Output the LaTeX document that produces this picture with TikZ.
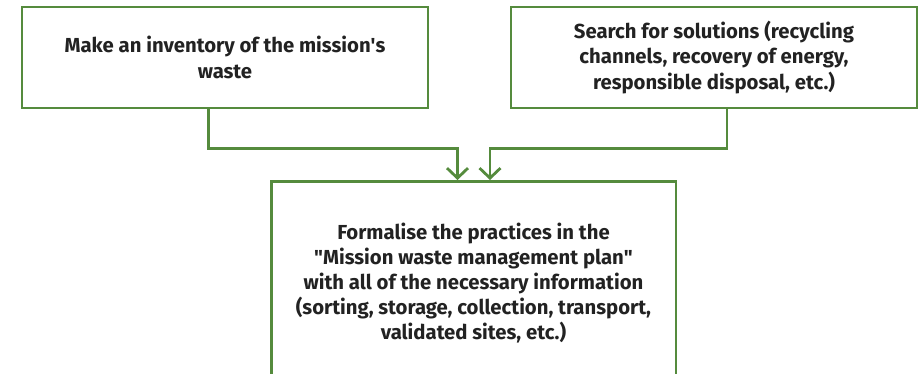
\documentclass[tikz,border=0pt]{standalone}
\usepackage{fontspec}
\setmainfont{Fira Sans}
\usepackage{tikz}
\usetikzlibrary{positioning,calc,arrows.meta}
\definecolor{wmgreen}{HTML}{558B3D}
\definecolor{wmtext}{HTML}{222222}
\tikzset{
  wmbox/.style={draw=wmgreen,line width=2.8pt,fill=white,rectangle,
    minimum width=406pt,minimum height=101pt,align=center,
    text=wmtext,font=\fontsize{20.3}{25.5}\selectfont\bfseries},
  wmplan/.style={rectangle,inner sep=0pt,align=center,
    text=wmtext,font=\fontsize{20.3}{25}\selectfont\bfseries},
  wmframe/.style={draw=wmgreen,line width=2.8pt},
  wmlink/.style={draw=wmgreen,line width=2.8pt,
    -{Straight Barb[length=10pt,width=21pt,line width=2.8pt]},shorten >=1.5pt}
}
\begin{document}
\begin{tikzpicture}[x=1pt,y=1pt]
  \useasboundingbox (0,0) rectangle (922,-373);
  % ---------- top boxes ----------
  \node[wmbox] (inv) at (225,-57.5) {Make an inventory of the mission\textquotesingle s\\waste};
  \node[wmbox] (sol) at (714,-57.5)
        {Search for solutions (recycling\\channels, recovery of energy,\\responsible disposal, etc.)};
  % ---------- plan box (runs off the page) ----------
  \node[wmplan,anchor=north] (plan) at (473.5,-223)
        {Formalise the practices in the\\\textquotedbl Mission waste management plan\textquotedbl\\with all of the necessary information\\(sorting, storage, collection, transport,\\validated sites, etc.)};
  \draw[wmframe] (271.5,-400) |- (676,-181.5) -- (676,-400);
  \coordinate (plantop) at (473.5,-181.5);
  % ---------- connectors ----------
  \draw[wmlink] ([xshift=-16.5pt]inv.south) -- ++(0,-39) -| ([xshift=-16pt]plantop);
  \draw[wmlink] ([xshift=13pt]sol.south) -- ++(0,-39) -| ([xshift=16.5pt]plantop);
\end{tikzpicture}
\end{document}
